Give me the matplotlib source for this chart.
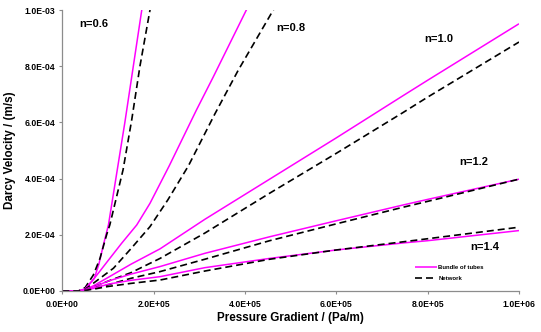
import matplotlib
matplotlib.use("Agg")
import matplotlib.pyplot as plt
from matplotlib.ticker import FuncFormatter

plt.rcParams['font.family'] = ['Liberation Sans', 'DejaVu Sans']
plt.rcParams['font.weight'] = 'bold'

# pressure gradient (Pa/m) and Darcy velocity (m/s)
x_06_bt = [0, 3.5e4, 5e4, 7e4, 8e4, 9e4, 1.01e5, 1.37e5, 1.74e5, 2.0e5]
y_06_bt = [0, 0, 0.05e-4, 0.45e-4, 0.95e-4, 1.64e-4, 2.35e-4, 6.0e-4, 10.0e-4, 12.8e-4]
x_06_nw = [0, 3.5e4, 5e4, 6.8e4, 8.25e4, 9.7e4, 1.04e5, 1.33e5, 1.52e5, 1.70e5, 1.92e5, 2.1e5]
y_06_nw = [0, 0, 0.12e-4, 0.57e-4, 1.16e-4, 2.0e-4, 2.35e-4, 4.31e-4, 6.09e-4, 8.0e-4, 10.0e-4, 11.8e-4]

x_08_bt = [0, 3.5e4, 5e4, 7e4, 1.04e5, 1.3e5, 1.63e5, 1.92e5, 2.34e5, 2.94e5, 3.3e5, 4.03e5, 4.3e5]
y_08_bt = [0, 0, 0.08e-4, 0.45e-4, 1.16e-4, 1.7e-4, 2.35e-4, 3.12e-4, 4.45e-4, 6.45e-4, 7.6e-4, 10.0e-4, 10.9e-4]
x_08_nw = [0, 3.5e4, 5e4, 7e4, 1.12e5, 1.5e5, 1.92e5, 2.31e5, 2.76e5, 3.34e5, 3.85e5, 4.62e5, 4.9e5]
y_08_nw = [0, 0, 0.06e-4, 0.3e-4, 0.81e-4, 1.5e-4, 2.29e-4, 3.24e-4, 4.45e-4, 6.3e-4, 7.85e-4, 10.0e-4, 10.8e-4]

x_n = [0, 3.5e4, 5e4, 7e4, 1e5, 1.5e5, 2.14e5, 3.12e5, 4.54e5, 6e5, 7.46e5, 8e5, 1e6]
y_10_bt = [0, 0, 0.05e-4, 0.2e-4, 0.48e-4, 0.95e-4, 1.5e-4, 2.55e-4, 3.98e-4, 5.45e-4, 6.95e-4, 7.5e-4, 9.51e-4]
y_10_nw = [0, 0, 0.04e-4, 0.15e-4, 0.35e-4, 0.65e-4, 1.16e-4, 2.06e-4, 3.48e-4, 4.9e-4, 6.35e-4, 6.9e-4, 8.86e-4]
y_12_bt = [0, 0, 0.04e-4, 0.15e-4, 0.35e-4, 0.6e-4, 0.87e-4, 1.34e-4, 1.93e-4, 2.5e-4, 3.06e-4, 3.26e-4, 3.98e-4]
y_12_nw = [0, 0, 0.03e-4, 0.1e-4, 0.22e-4, 0.45e-4, 0.69e-4, 1.13e-4, 1.79e-4, 2.39e-4, 2.98e-4, 3.19e-4, 3.98e-4]
y_14_bt = [0, 0, 0.03e-4, 0.1e-4, 0.24e-4, 0.38e-4, 0.51e-4, 0.83e-4, 1.16e-4, 1.46e-4, 1.71e-4, 1.79e-4, 2.15e-4]
y_14_nw = [0, 0, 0.02e-4, 0.07e-4, 0.16e-4, 0.27e-4, 0.39e-4, 0.71e-4, 1.13e-4, 1.46e-4, 1.75e-4, 1.86e-4, 2.27e-4]

n_labels = ['n=0.6', 'n=0.8', 'n=1.0', 'n=1.2', 'n=1.4']
n_label_x = [6.83e4, 5.0e5, 8.25e5, 9.02e5, 9.24e5]
n_label_y = [9.5e-4, 9.36e-4, 8.97e-4, 4.58e-4, 1.57e-4]

pink = '#FF00FF'
bt_style = dict(color=pink, lw=1.1, solid_capstyle='butt')
nw_style = dict(color='black', lw=1.2, dashes=(4.2, 2.4))

fig = plt.figure(figsize=(5.41, 3.32), dpi=100)
ax = fig.add_axes([62.3 / 541, 1 - 291 / 332, (519 - 62.3) / 541, 281 / 332])

ax.plot(x_06_bt, y_06_bt, label='Bundle of tubes', **bt_style)
ax.plot(x_06_nw, y_06_nw, label='Network', **nw_style)
ax.plot(x_08_bt, y_08_bt, **bt_style)
ax.plot(x_08_nw, y_08_nw, **nw_style)
for yb, yn in [(y_10_bt, y_10_nw), (y_12_bt, y_12_nw), (y_14_bt, y_14_nw)]:
    ax.plot(x_n, yb, **bt_style)
    ax.plot(x_n, yn, **nw_style)

for t, tx, ty in zip(n_labels, n_label_x, n_label_y):
    ax.text(tx, ty, t, ha='center', va='center', fontsize=8, fontweight='bold')

ax.set_xlim(0, 1e6)
ax.set_ylim(0, 1e-3)
ax.set_xticks([0, 2e5, 4e5, 6e5, 8e5, 1e6])
ax.set_yticks([0, 2e-4, 4e-4, 6e-4, 8e-4, 1e-3])

def sci(v, pos):
    s = '%.1E' % v
    return s
ax.xaxis.set_major_formatter(FuncFormatter(sci))
ax.yaxis.set_major_formatter(FuncFormatter(sci))

for side in ['top', 'right']:
    ax.spines[side].set_visible(False)
for side in ['left', 'bottom']:
    ax.spines[side].set_color('#8c8c8c')
    ax.spines[side].set_linewidth(0.9)
ax.tick_params(axis='both', colors='#8c8c8c', length=2.5, width=0.8, labelsize=6.2, labelcolor='black')
ax.tick_params(axis='x', pad=4)
ax.tick_params(axis='y', pad=2.7)
for lab in ax.get_xticklabels() + ax.get_yticklabels():
    lab.set_fontweight('bold')

ax.set_xlabel('Pressure Gradient / (Pa/m)', fontsize=8.4, fontweight='bold')
ax.set_ylabel('Darcy Velocity / (m/s)', fontsize=8.4, fontweight='bold')
ax.xaxis.set_label_coords(0.5, -0.075)
ax.yaxis.set_label_coords(-(62.3 - 15.7) / 456.7, 0.5)

leg = ax.legend(loc='upper left', bbox_to_anchor=(415 / 541, 1 - 265 / 332),
                bbox_transform=fig.transFigure, frameon=False, fontsize=4.3,
                handlelength=3.7, handletextpad=0.2, borderpad=0, borderaxespad=0,
                labelspacing=0.9)
for t in leg.get_texts():
    t.set_fontweight('bold')

fig.savefig('out.png', dpi=100)
